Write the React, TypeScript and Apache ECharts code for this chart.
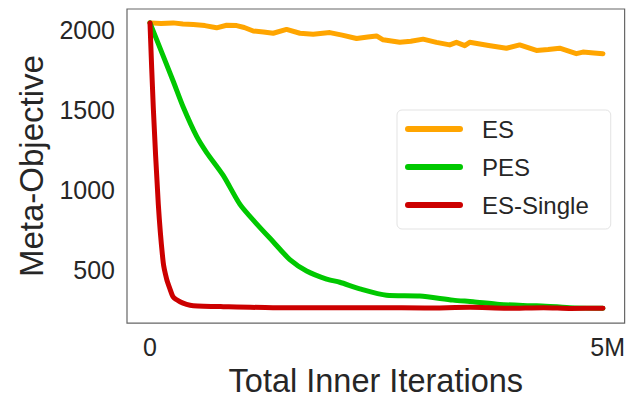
import React, { useEffect, useRef } from "react";
import * as echarts from "echarts";

// Iterations are in millions; objective values on the y axis.
const ES_X = [0, 0.12, 0.254, 0.36, 0.473, 0.6, 0.728, 0.837, 0.947, 1.03, 1.128, 1.24, 1.346, 1.492, 1.638, 1.783, 1.965, 2.1, 2.257, 2.38, 2.475, 2.547, 2.729, 2.85, 2.984, 3.13, 3.275, 3.348, 3.439, 3.493, 3.7, 3.894, 4.039, 4.222, 4.35, 4.476, 4.658, 4.73, 4.85, 4.949];
const ES_Y = [2047, 2043, 2047, 2040, 2037, 2030, 2016, 2032, 2030, 2018, 1996, 1990, 1982, 2006, 1982, 1976, 1986, 1970, 1949, 1958, 1965, 1941, 1925, 1932, 1945, 1925, 1909, 1925, 1904, 1925, 1905, 1888, 1909, 1874, 1880, 1888, 1854, 1864, 1858, 1854];

const PES_X = [0, 0.254, 0.364, 0.51, 0.619, 0.8, 0.983, 1.165, 1.346, 1.528, 1.711, 1.929, 2.074, 2.293, 2.584, 2.948, 3.311, 3.53, 3.821, 4.222, 4.585, 4.949];
const PES_Y = [2047, 1681, 1518, 1335, 1234, 1091, 909, 787, 675, 563, 492, 441, 421, 380, 340, 335, 309, 299, 282, 273, 262, 258];

const SINGLE_X = [0, 0.036, 0.091, 0.145, 0.182, 0.218, 0.254, 0.328, 0.4, 0.473, 0.8, 1.343, 2.074, 2.5, 3.0, 3.5, 3.9, 4.3, 4.6, 4.949];
const SINGLE_Y = [2047, 1518, 909, 543, 441, 380, 329, 299, 282, 274, 268, 262, 262, 262, 259, 264, 258, 262, 257, 258];

const X_TICKS = [0, 5];
const Y_TICKS = [500, 1000, 1500, 2000];

const SERIES_NAMES = ["ES", "PES", "ES-Single"];
const SERIES_COLORS = ["#FFA500", "#00C800", "#CC0000"];
const SERIES_SMOOTH = [false, 0.25, 0.25];

const FONT = "'Liberation Sans', Arial, sans-serif";
const TEXT = "#262626";

const pairs = (xs: number[], ys: number[]) => xs.map((x, i) => [x, ys[i]]);

export default function App() {
  const ref = useRef<HTMLDivElement>(null);

  useEffect(() => {
    if (!ref.current) return;
    const chart = echarts.init(ref.current, undefined, { renderer: "svg" });
    const data = [pairs(ES_X, ES_Y), pairs(PES_X, PES_Y), pairs(SINGLE_X, SINGLE_Y)];

    chart.setOption({
      animation: false,
      backgroundColor: "#ffffff",
      textStyle: { fontFamily: FONT },
      grid: {
        left: 127,
        top: 9,
        right: 3,
        bottom: 70,
        show: true,
        borderColor: "#666",
        borderWidth: 1.2,
        backgroundColor: "transparent",
      },
      legend: {
        orient: "vertical",
        left: 397,
        top: 110,
        padding: [5, 22, 10, 8],
        itemGap: 10,
        itemWidth: 58,
        itemHeight: 6,
        icon: "path://M3,0 L55,0 A3,3 0 0 1 55,6 L3,6 A3,3 0 0 1 3,0 Z",
        backgroundColor: "#ffffff",
        borderColor: "#e3e3e3",
        borderWidth: 1,
        borderRadius: 5,
        itemStyle: { borderWidth: 0 },
        textStyle: {
          fontFamily: FONT,
          fontSize: 24,
          color: TEXT,
          lineHeight: 28,
          padding: [0, 0, 0, 14],
        },
        data: SERIES_NAMES,
      },
      xAxis: {
        type: "value",
        min: -0.2511,
        max: 5.1856,
        name: "Total Inner Iterations",
        nameLocation: "middle",
        nameGap: 33,
        nameTextStyle: { fontFamily: FONT, fontSize: 32.5, color: TEXT },
        axisLine: { show: false },
        axisTick: { show: false, customValues: X_TICKS },
        splitLine: { show: false },
        axisLabel: {
          customValues: X_TICKS,
          fontFamily: FONT,
          fontSize: 25,
          color: TEXT,
          margin: 11,
          formatter: (v: number) => (v === 0 ? "0" : `${v}M`),
        },
      },
      yAxis: {
        type: "value",
        min: 165,
        max: 2134,
        name: "Meta-Objective",
        nameLocation: "middle",
        nameGap: 77,
        nameTextStyle: { fontFamily: FONT, fontSize: 33, color: TEXT },
        axisLine: { show: false },
        axisTick: { show: false, customValues: Y_TICKS },
        splitLine: { show: false },
        axisLabel: {
          customValues: Y_TICKS,
          fontFamily: FONT,
          fontSize: 25,
          color: TEXT,
          margin: 12,
          formatter: (v: number) => String(v),
        },
      },
      series: SERIES_NAMES.map((name, i) => ({
        name,
        type: "line",
        data: data[i],
        showSymbol: false,
        symbol: "none",
        smooth: SERIES_SMOOTH[i],
        color: SERIES_COLORS[i],
        lineStyle: { width: 5, color: SERIES_COLORS[i], cap: "round", join: "round" },
        z: 2 + i,
      })),
    });

    return () => chart.dispose();
  }, []);

  return (
    <div
      ref={ref}
      style={{ position: "fixed", left: 0, top: 0, width: 628, height: 402, background: "#fff" }}
    />
  );
}
